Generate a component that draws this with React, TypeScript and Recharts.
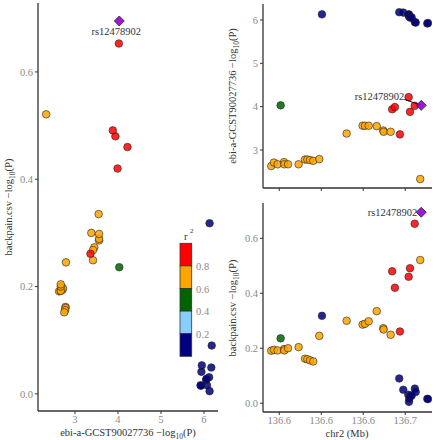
import React from 'react';
import { ScatterChart, Scatter, XAxis, YAxis } from 'recharts';

// ---- data ----
const snpPositionMb = [
  136.5702, 136.5718, 136.574, 136.5758, 136.5778, 136.578, 136.5802, 136.5865,
  136.5903, 136.5917, 136.5933, 136.5952, 136.5988, 136.6004, 136.6151, 136.6246,
  136.626, 136.6282, 136.633, 136.6369, 136.6371, 136.6413, 136.6422, 136.6438,
  136.6464, 136.6468, 136.6488, 136.6518, 136.652, 136.6522, 136.6524, 136.6528,
  136.6532, 136.6538, 136.6556, 136.6557, 136.6562, 136.6589, 136.6631, 136.6635,
];
const ebiLogP = [
  2.63, 2.71, 2.67, 4.03, 2.72, 2.67, 2.67, 2.67,
  2.78, 2.78, 2.77, 2.75, 2.79, 6.13, 3.38, 3.56,
  3.56, 3.56, 3.55, 3.45, 3.42, 3.42, 3.94, 3.99,
  6.18, 3.36, 6.17, 6.12, 4.22, 6.13, 6.07, 3.88,
  6.05, 6.06, 4.02, 5.95, 5.94, 2.33, 5.92, 5.93,
];
const backpainLogP = [
  0.191, 0.194, 0.192, 0.236, 0.197, 0.192, 0.2, 0.204,
  0.162, 0.16, 0.156, 0.152, 0.245, 0.318, 0.3, 0.286,
  0.289, 0.298, 0.335, 0.273, 0.268, 0.249, 0.48, 0.42,
  0.09, 0.261, 0.049, 0.031, 0.46, 0.005, 0.016, 0.491,
  0.026, 0.028, 0.653, 0.053, 0.041, 0.521, 0.016, 0.015,
];
const ldR2 = [
  0.7, 0.7, 0.7, 0.5, 0.7, 0.7, 0.7, 0.7,
  0.7, 0.7, 0.7, 0.7, 0.7, 0.1, 0.7, 0.7,
  0.7, 0.7, 0.7, 0.7, 0.7, 0.7, 0.9, 0.9,
  0.1, 0.9, 0.1, 0.1, 0.9, 0.1, 0.1, 0.9,
  0.1, 0.1, 0.9, 0.1, 0.1, 0.7, 0.1, 0.1,
];
const leadSnp = 'rs12478902';
const leadPositionMb = 136.6595;
const leadEbiLogP = 4.03;
const leadBackpainLogP = 0.695;

const r2Breaks = [0.2, 0.4, 0.6, 0.8];
const r2Colors = ['#000080', '#87CEFA', '#006400', '#FFA500', '#FF0000'];
const ebiTicks = [3, 4, 5, 6];
const backpainTicks = [0, 0.2, 0.4, 0.6];
const chrTicks = [136.575, 136.6, 136.625, 136.65];
const chrTickLabels = ['136.6', '136.6', '136.6', '136.7'];

// ---- derived ----
const colorFor = (r2: number) => r2Colors[r2Breaks.filter((b) => r2 >= b).length];
const snps = snpPositionMb.map((pos, i) => ({
  pos,
  ebi: ebiLogP[i],
  bp: backpainLogP[i],
  color: colorFor(ldR2[i]),
}));
const lead = [{ pos: leadPositionMb, ebi: leadEbiLogP, bp: leadBackpainLogP, name: leadSnp }];

const FONT = '"Liberation Serif", "DejaVu Serif", serif';
const tickStyle = { fill: '#8a8a8a', fontSize: 10.5, fontFamily: FONT };
const axisLine = { stroke: '#333', strokeWidth: 1.3 };
const tickLine = { stroke: '#333', strokeWidth: 1 };

const ebiDomain: [number, number] = [2.14, 6.326];
const ebiDomainY: [number, number] = [2.123, 6.369];
const bpDomain: [number, number] = [-0.032, 0.7285];
const chrDomain: [number, number] = [136.5653, 136.6659];

const Dot = (props: any) => {
  const { cx, cy, payload } = props;
  if (cx == null || cy == null) return null;
  return (
    <circle cx={cx} cy={cy} r={3.8} fill={payload.color} fillOpacity={0.85} stroke="#222" strokeWidth={0.6} />
  );
};

const diamond = (cx: number, cy: number) => {
  const s = 5;
  return (
    <polygon
      points={`${cx},${cy - s} ${cx + s},${cy} ${cx},${cy + s} ${cx - s},${cy}`}
      fill="#9400D3"
      fillOpacity={0.9}
      stroke="#222"
      strokeWidth={0.8}
    />
  );
};

const labelText = { fontSize: 10.5, fontFamily: FONT, fill: '#333' };

const LeadBelow = (props: any) => {
  const { cx, cy, payload } = props;
  if (cx == null) return null;
  return (
    <g>
      {diamond(cx, cy)}
      <text x={cx - 3} y={cy + 14} textAnchor="middle" {...labelText}>{payload.name}</text>
    </g>
  );
};

const LeadLine = (props: any) => {
  const { cx, cy, payload } = props;
  if (cx == null) return null;
  return (
    <g>
      <line x1={cx - 17} y1={cy - 6} x2={cx} y2={cy} stroke="#111" strokeWidth={1} />
      {diamond(cx, cy)}
      <text x={cx - 17} y={cy - 5} textAnchor="end" {...labelText}>{payload.name}</text>
    </g>
  );
};

const LeadLeft = (props: any) => {
  const { cx, cy, payload } = props;
  if (cx == null) return null;
  return (
    <g>
      {diamond(cx, cy)}
      <text x={cx - 4} y={cy + 4} textAnchor="end" {...labelText}>{payload.name}</text>
    </g>
  );
};

const titleStyle = { fontSize: 10.5, fontFamily: FONT, fill: '#333' };

const LogTitle = ({ x, y, prefix, rotate }: { x: number; y: number; prefix: string; rotate?: boolean }) => (
  <text
    x={x}
    y={y}
    textAnchor="middle"
    transform={rotate ? `rotate(-90 ${x} ${y})` : undefined}
    {...titleStyle}
  >
    <tspan>{prefix} −log</tspan>
    <tspan dy={3} fontSize={7.5}>10</tspan>
    <tspan dy={-3}>(P)</tspan>
  </text>
);

export default function App() {
  const bandH = 22.6;
  const barTop = 243.3;
  const barLeft = 180;
  const bands = [...r2Colors].reverse();
  return (
    <div style={{ position: 'absolute', left: 0, top: 0, width: 437, height: 440, background: '#fff' }}>
      {/* left: compare plot */}
      <div style={{ position: 'absolute', left: 0, top: 0 }}>
        <ScatterChart width={220} height={440} margin={{ top: 3, right: 2, bottom: 0, left: 0 }}>
          <XAxis
            type="number"
            dataKey="ebi"
            domain={ebiDomain}
            ticks={ebiTicks}
            allowDataOverflow
            height={29}
            tick={tickStyle}
            axisLine={axisLine}
            tickLine={tickLine}
            tickSize={3}
          />
          <YAxis
            type="number"
            dataKey="bp"
            domain={bpDomain}
            ticks={backpainTicks}
            allowDataOverflow
            width={38}
            tick={tickStyle}
            axisLine={axisLine}
            tickLine={tickLine}
            tickSize={3}
            tickFormatter={(v: number) => v.toFixed(1)}
          />
          <Scatter data={snps} shape={Dot} isAnimationActive={false} />
          <Scatter data={lead} shape={LeadBelow} isAnimationActive={false} />
        </ScatterChart>
      </div>

      {/* right top: ebi locus */}
      <div style={{ position: 'absolute', left: 220, top: 0 }}>
        <ScatterChart width={217} height={200} margin={{ top: 4, right: 5, bottom: 0, left: 0 }}>
          <XAxis
            type="number"
            dataKey="pos"
            domain={chrDomain}
            ticks={chrTicks}
            allowDataOverflow
            height={12}
            tick={tickStyle}
            tickFormatter={() => ''}
            axisLine={axisLine}
            tickLine={tickLine}
            tickSize={3}
          />
          <YAxis
            type="number"
            dataKey="ebi"
            domain={ebiDomainY}
            ticks={ebiTicks}
            allowDataOverflow
            width={43}
            tick={tickStyle}
            axisLine={axisLine}
            tickLine={tickLine}
            tickSize={3}
          />
          <Scatter data={snps} shape={Dot} isAnimationActive={false} />
          <Scatter data={lead} shape={LeadLine} isAnimationActive={false} />
        </ScatterChart>
      </div>

      {/* right bottom: backpain locus */}
      <div style={{ position: 'absolute', left: 220, top: 190 }}>
        <ScatterChart width={217} height={250} margin={{ top: 13, right: 5, bottom: 0, left: 0 }}>
          <XAxis
            type="number"
            dataKey="pos"
            domain={chrDomain}
            ticks={chrTicks}
            allowDataOverflow
            height={28}
            tick={tickStyle}
            tickFormatter={(v: number) => chrTickLabels[chrTicks.indexOf(v)] ?? ''}
            axisLine={axisLine}
            tickLine={tickLine}
            tickSize={3}
          />
          <YAxis
            type="number"
            dataKey="bp"
            domain={bpDomain}
            ticks={backpainTicks}
            allowDataOverflow
            width={43}
            tick={tickStyle}
            axisLine={axisLine}
            tickLine={tickLine}
            tickSize={3}
            tickFormatter={(v: number) => v.toFixed(1)}
          />
          <Scatter data={snps} shape={Dot} isAnimationActive={false} />
          <Scatter data={lead} shape={LeadLeft} isAnimationActive={false} />
        </ScatterChart>
      </div>

      {/* titles and colour bar */}
      <svg
        width={437}
        height={440}
        style={{ position: 'absolute', left: 0, top: 0, pointerEvents: 'none' }}
      >
        <LogTitle x={12} y={207} prefix="backpain.csv" rotate />
        <LogTitle x={128} y={436} prefix="ebi-a-GCST90027736" />
        <LogTitle x={236} y={96} prefix="ebi-a-GCST90027736" rotate />
        <LogTitle x={236} y={308} prefix="backpain.csv" rotate />
        <text x={347} y={437} textAnchor="middle" {...titleStyle}>chr2 (Mb)</text>

        <text x={184} y={240} {...titleStyle}>r</text>
        <text x={190} y={233} fontSize={7} fontFamily={FONT} fill="#333">2</text>
        {bands.map((c, i) => (
          <rect
            key={c}
            x={barLeft}
            y={barTop + i * bandH}
            width={11.7}
            height={bandH}
            fill={c}
            stroke="#333"
            strokeWidth={0.8}
          />
        ))}
        {[...r2Breaks].reverse().map((b, i) => (
          <text
            key={b}
            x={196}
            y={barTop + (i + 1) * bandH + 4}
            {...tickStyle}
          >
            {b.toFixed(1)}
          </text>
        ))}
      </svg>
    </div>
  );
}
